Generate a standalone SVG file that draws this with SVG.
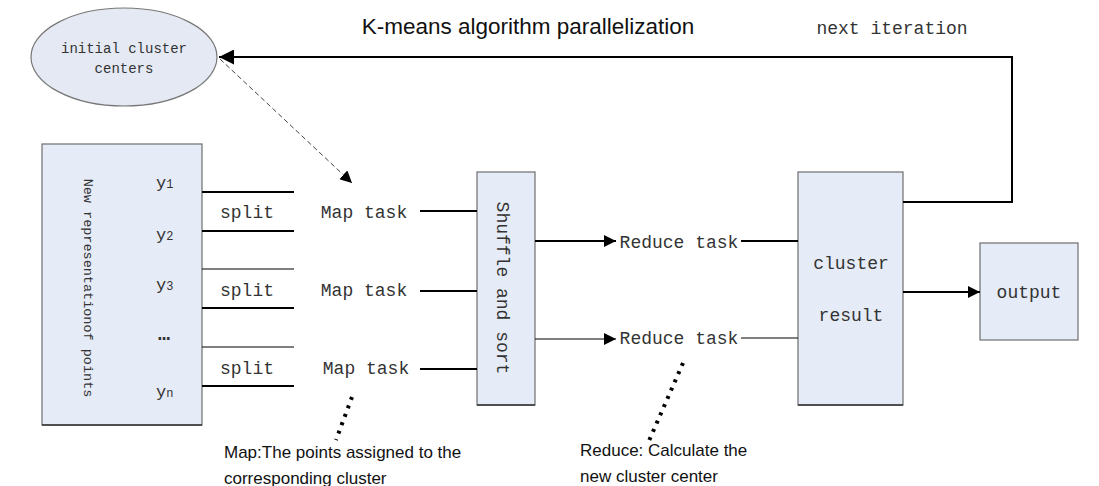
<svg xmlns="http://www.w3.org/2000/svg" width="1099" height="486" viewBox="0 0 1099 486">
<style>
.box{fill:#e6ecf7;stroke:#6e6e6e;stroke-width:1.2}
.mono{font-family:"Liberation Mono","DejaVu Sans Mono",monospace;fill:#333}
.sans{font-family:"Liberation Sans","Noto Sans",sans-serif;fill:#111}
.ln{stroke:#000;stroke-width:2;fill:none}
.thin{stroke:#000;stroke-width:1;fill:none}
</style>
<defs>
<marker id="ahb" viewBox="0 0 10 10" refX="10" refY="5" markerWidth="15" markerHeight="15" markerUnits="userSpaceOnUse" orient="auto"><path d="M0,0L10,5L0,10z" fill="#000"/></marker>
<marker id="ahm" viewBox="0 0 10 10" refX="10" refY="5" markerWidth="12" markerHeight="12" markerUnits="userSpaceOnUse" orient="auto"><path d="M0,0L10,5L0,10z" fill="#000"/></marker>
</defs>
<rect width="1099" height="486" fill="#fff"/>
<text class="sans" x="528" y="34" font-size="22.5" text-anchor="middle">K-means algorithm parallelization</text>
<text class="mono" x="892" y="34" font-size="18" text-anchor="middle" fill="#444">next iteration</text>

<g id="initial">
<ellipse cx="124" cy="57" rx="93" ry="49" fill="#e4e9f4" stroke="#777" stroke-width="1.2"/>
<text class="mono" x="124" y="53" font-size="14" text-anchor="middle" fill="#555">initial cluster</text>
<text class="mono" x="124" y="73" font-size="14" text-anchor="middle" fill="#555">centers</text>
</g>

<g id="points">
<rect class="box" x="42" y="144" width="160" height="281"/>
<line x1="42" y1="425" x2="202" y2="425" stroke="#333" stroke-width="1.5"/>
<text class="mono" transform="translate(84,288) rotate(90)" font-size="13.5" text-anchor="middle" fill="#555">New representationof points</text>
<text class="mono" x="156" y="188" font-size="17">y<tspan font-size="12">1</tspan></text>
<text class="mono" x="156" y="240" font-size="17">y<tspan font-size="12">2</tspan></text>
<text class="mono" x="156" y="290" font-size="17">y<tspan font-size="12">3</tspan></text>
<text class="mono" x="164" y="340" font-size="20" font-weight="bold" text-anchor="middle">…</text>
<text class="mono" x="156" y="397" font-size="17">y<tspan font-size="12">n</tspan></text>
</g>

<g id="splits">
<text class="mono" x="247" y="218" font-size="18" text-anchor="middle">split</text>
<text class="mono" x="247" y="296" font-size="18" text-anchor="middle">split</text>
<text class="mono" x="247" y="374" font-size="18" text-anchor="middle">split</text>
</g>
<g id="maps">
<text class="mono" x="364" y="218" font-size="18" text-anchor="middle">Map task</text>
<text class="mono" x="364" y="296" font-size="18" text-anchor="middle">Map task</text>
<text class="mono" x="366" y="374" font-size="18" text-anchor="middle">Map task</text>
</g>

<g id="shuffle">
<rect class="box" x="477" y="172" width="58" height="233"/>
<line x1="477" y1="405" x2="535" y2="405" stroke="#333" stroke-width="1.5"/>
<text class="mono" transform="translate(497,288) rotate(90)" font-size="18" text-anchor="middle" fill="#444">Shuffle and sort</text>
</g>

<g id="reduces">
<text class="mono" x="679" y="248" font-size="18" text-anchor="middle">Reduce task</text>
<text class="mono" x="679" y="344" font-size="18" text-anchor="middle">Reduce task</text>
</g>

<g id="cluster">
<rect class="box" x="798" y="172" width="105" height="233"/>
<line x1="798" y1="405" x2="903" y2="405" stroke="#333" stroke-width="1.5"/>
<text class="mono" x="851" y="269" font-size="18" text-anchor="middle">cluster</text>
<text class="mono" x="851" y="321" font-size="18" text-anchor="middle">result</text>
</g>

<g id="output">
<rect class="box" x="980" y="243" width="98" height="97"/>
<text class="mono" x="1029" y="298" font-size="18" text-anchor="middle">output</text>
</g>

<g id="connectors">
<polyline class="ln" points="903,202 1012,202 1012,57 219,57" marker-end="url(#ahb)"/>
<line x1="220" y1="59" x2="352" y2="183" stroke="#444" stroke-width="1" stroke-dasharray="5,3" marker-end="url(#ahm)"/>
<line class="ln" x1="202" y1="192" x2="294" y2="192"/>
<line class="ln" x1="202" y1="231" x2="294" y2="231"/>
<line class="thin" x1="202" y1="269" x2="294" y2="269"/>
<line class="ln" x1="202" y1="308" x2="294" y2="308"/>
<line class="thin" x1="202" y1="347" x2="294" y2="347"/>
<line class="ln" x1="202" y1="386" x2="294" y2="386"/>
<line class="ln" x1="420" y1="211" x2="477" y2="211"/>
<line class="ln" x1="420" y1="291" x2="477" y2="291"/>
<line class="ln" x1="420" y1="369" x2="477" y2="369"/>
<line class="ln" x1="535" y1="241" x2="616" y2="241" marker-end="url(#ahm)"/>
<line class="thin" x1="535" y1="339" x2="616" y2="339" marker-end="url(#ahm)"/>
<line class="ln" x1="741" y1="241" x2="798" y2="241"/>
<line class="thin" x1="741" y1="338" x2="798" y2="338"/>
<line class="ln" x1="903" y1="292" x2="980" y2="292" marker-end="url(#ahm)"/>
<line x1="352" y1="397" x2="336" y2="440" stroke="#000" stroke-width="4" stroke-dasharray="3,6"/>
<line x1="683" y1="363" x2="648" y2="443" stroke="#000" stroke-width="4" stroke-dasharray="3,6"/>
</g>

<g id="notes">
<text class="sans" x="224" y="458" font-size="17">Map:The points assigned to the</text>
<text class="sans" x="224" y="484" font-size="17">corresponding cluster</text>
<text class="sans" x="580" y="456" font-size="17">Reduce: Calculate the</text>
<text class="sans" x="580" y="482" font-size="17">new cluster center</text>
</g>
</svg>
